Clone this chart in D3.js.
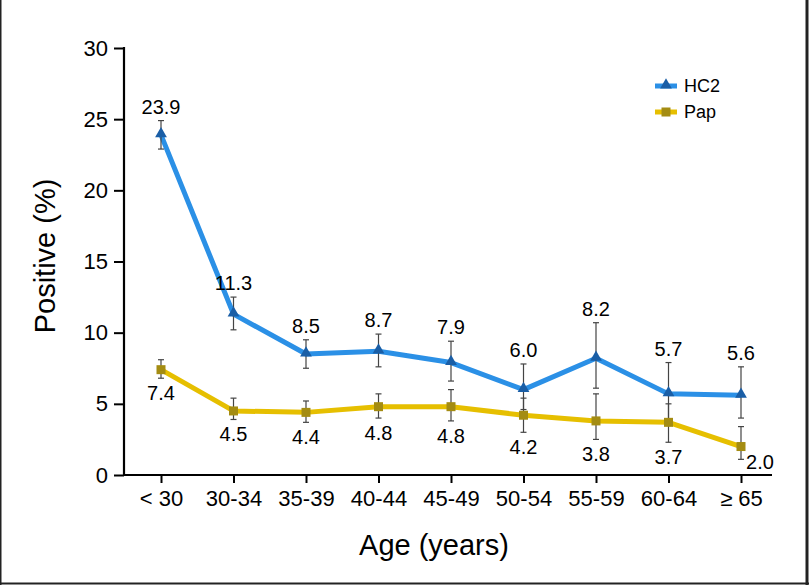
<!DOCTYPE html>
<html>
<head>
<meta charset="utf-8">
<script src="https://cdn.jsdelivr.net/npm/d3@7/dist/d3.min.js"></script>
<style>
  html, body { margin: 0; padding: 0; background: #fff; }
  svg { display: block; font-family: "Liberation Sans", Arial, Helvetica, sans-serif; }
</style>
</head>
<body>
<svg id="chart" width="809" height="585"></svg>
<script>
const categories = ["< 30", "30-34", "35-39", "40-44", "45-49", "50-54", "55-59", "60-64", "\u2265 65"];
const hc2Values = [23.9, 11.3, 8.5, 8.7, 7.9, 6.0, 8.2, 5.7, 5.6];
const hc2Low    = [22.9, 10.2, 7.5, 7.6, 6.6, 4.6, 6.1, 3.9, 4.0];
const hc2High   = [24.9, 12.5, 9.5, 9.9, 9.4, 7.8, 10.7, 7.9, 7.6];
const papValues = [7.4, 4.5, 4.4, 4.8, 4.8, 4.2, 3.8, 3.7, 2.0];
const papLow    = [6.8, 3.9, 3.7, 4.0, 3.8, 3.0, 2.5, 2.3, 1.1];
const papHigh   = [8.1, 5.4, 5.2, 5.7, 6.0, 5.4, 5.7, 5.0, 3.4];
const yTicks = [0, 5, 10, 15, 20, 25, 30];
const seriesNames = ["HC2", "Pap"];

const FONT = "'Liberation Sans', Arial, Helvetica, sans-serif";
const svg = d3.select("#chart");

// frame
svg.append("line").attr("x1", 0.75).attr("x2", 0.75).attr("y1", 0).attr("y2", 585).attr("stroke", "#222").attr("stroke-width", 1.5);
svg.append("line").attr("x1", 807).attr("x2", 807).attr("y1", 0).attr("y2", 585).attr("stroke", "#222").attr("stroke-width", 3);
svg.append("line").attr("x1", 0).attr("x2", 809).attr("y1", 583.5).attr("y2", 583.5).attr("stroke", "#222").attr("stroke-width", 2);

const x = d3.scalePoint().domain(categories).range([161, 741]).padding(0);
const y = d3.scaleLinear().domain([0, 30]).range([475, 48]);

const axisX0 = 124, axisX1 = 772;

// Y axis
const yAxis = svg.append("g").attr("transform", `translate(${axisX0},0)`)
  .call(d3.axisLeft(y).tickValues(yTicks).tickSize(10).tickPadding(6).tickFormat(d3.format("d")));
yAxis.select(".domain").remove();
yAxis.selectAll(".tick line").attr("stroke", "#000").attr("stroke-width", 2);
yAxis.selectAll(".tick text").attr("font-size", 22).attr("fill", "#000").attr("font-family", FONT);
svg.append("line").attr("x1", axisX0).attr("x2", axisX0).attr("y1", y(30) - 1).attr("y2", y(0) + 1)
  .attr("stroke", "#000").attr("stroke-width", 2.2);

// X axis
const xAxis = svg.append("g").attr("transform", `translate(0,${y(0)})`)
  .call(d3.axisBottom(x).tickSize(8).tickPadding(7));
xAxis.select(".domain").remove();
xAxis.selectAll(".tick line").attr("stroke", "#000").attr("stroke-width", 2);
xAxis.selectAll(".tick text").attr("font-size", 22).attr("fill", "#000").attr("font-family", FONT);
svg.append("line").attr("x1", axisX0 - 1).attr("x2", axisX1).attr("y1", y(0)).attr("y2", y(0))
  .attr("stroke", "#000").attr("stroke-width", 2.2);

// Axis titles
svg.append("text").attr("x", 434).attr("y", 555).attr("text-anchor", "middle")
  .attr("font-size", 29).attr("fill", "#000").text("Age (years)");
svg.append("text").attr("transform", `translate(55,256) rotate(-90)`).attr("text-anchor", "middle")
  .attr("font-size", 29).attr("fill", "#000").text("Positive (%)");

const hc2Color = "#2b90e6", hc2Marker = "#1a5ea6";
const papColor = "#e6bf00", papMarker = "#a48c12";

const line = d3.line().x((d, i) => x(categories[i])).y(d => y(d));

// Lines
svg.append("path").datum(papValues).attr("d", line).attr("fill", "none")
  .attr("stroke", papColor).attr("stroke-width", 5).attr("stroke-linejoin", "round");
svg.append("path").datum(hc2Values).attr("d", line).attr("fill", "none")
  .attr("stroke", hc2Color).attr("stroke-width", 5).attr("stroke-linejoin", "round");

// Error bars
function errorBars(lo, hi) {
  const g = svg.append("g").attr("stroke", "#444").attr("stroke-width", 1.2);
  categories.forEach((c, i) => {
    const cx = x(c);
    g.append("line").attr("x1", cx).attr("x2", cx).attr("y1", y(lo[i])).attr("y2", y(hi[i]));
    g.append("line").attr("x1", cx - 3).attr("x2", cx + 3).attr("y1", y(lo[i])).attr("y2", y(lo[i]));
    g.append("line").attr("x1", cx - 3).attr("x2", cx + 3).attr("y1", y(hi[i])).attr("y2", y(hi[i]));
  });
}
errorBars(papLow, papHigh);
errorBars(hc2Low, hc2High);

// Markers
const tri = d3.symbol().type(d3.symbolTriangle).size(60);
svg.append("g").selectAll("path").data(hc2Values).join("path")
  .attr("d", tri).attr("fill", hc2Marker)
  .attr("transform", (d, i) => `translate(${x(categories[i])},${y(d) - 1})`);
svg.append("g").selectAll("rect").data(papValues).join("rect")
  .attr("x", (d, i) => x(categories[i]) - 4.5).attr("y", d => y(d) - 4.5)
  .attr("width", 9).attr("height", 9).attr("fill", papMarker);

// Value labels
svg.append("g").selectAll("text").data(hc2Values).join("text")
  .attr("x", (d, i) => x(categories[i]))
  .attr("y", (d, i) => y(hc2High[i]) - 14)
  .attr("dy", "0.35em").attr("text-anchor", "middle").attr("font-size", 20).attr("fill", "#000")
  .text(d => d.toFixed(1));
svg.append("g").selectAll("text").data(papValues).join("text")
  .attr("x", (d, i) => x(categories[i]) + (i === categories.length - 1 ? 19 : 0))
  .attr("y", (d, i) => i === categories.length - 1 ? y(d) + 15 : y(papLow[i]) + 15)
  .attr("dy", "0.35em").attr("text-anchor", "middle").attr("font-size", 20).attr("fill", "#000")
  .text(d => d.toFixed(1));

// Legend
const legend = svg.append("g");
const legendItems = [
  { name: seriesNames[0], color: hc2Color, marker: hc2Marker, shape: "tri", y: 86 },
  { name: seriesNames[1], color: papColor, marker: papMarker, shape: "sq", y: 112 }
];
legendItems.forEach(it => {
  legend.append("line").attr("x1", 655).attr("x2", 677).attr("y1", it.y).attr("y2", it.y)
    .attr("stroke", it.color).attr("stroke-width", 5);
  if (it.shape === "tri") {
    legend.append("path").attr("d", tri).attr("fill", it.marker).attr("transform", `translate(666,${it.y - 1})`);
  } else {
    legend.append("rect").attr("x", 661.5).attr("y", it.y - 4.5).attr("width", 9).attr("height", 9).attr("fill", it.marker);
  }
  legend.append("text").attr("x", 684).attr("y", it.y).attr("dy", "0.35em")
    .attr("font-size", 18).attr("fill", "#000").text(it.name);
});
</script>
</body>
</html>
